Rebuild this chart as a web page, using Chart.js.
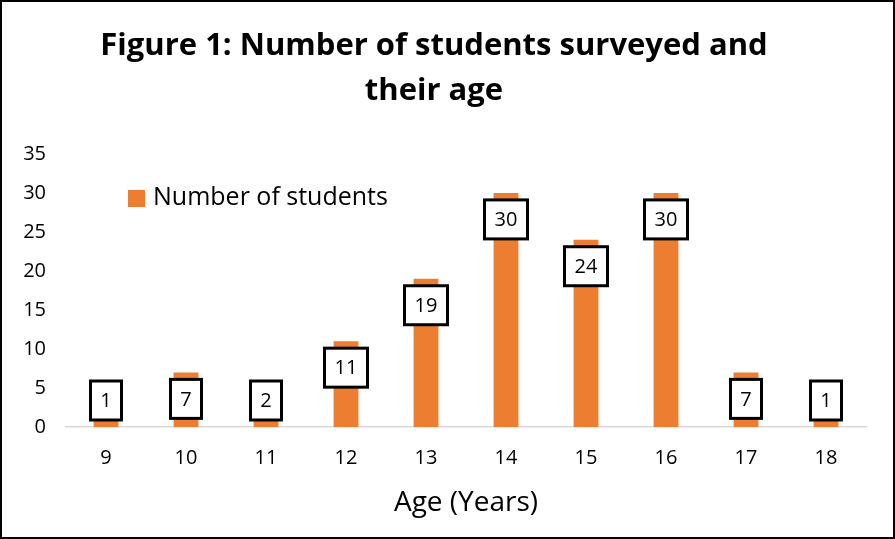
<!DOCTYPE html>
<html>
<head>
<meta charset="utf-8">
<script src="https://cdn.jsdelivr.net/npm/chart.js@4.4.0/dist/chart.umd.min.js"></script>
<style>
  html, body { margin: 0; padding: 0; background: #fff; }
  #frame { width: 895px; height: 539px; box-sizing: border-box; border: 2px solid #000; background: #fff; }
  #chart { display: block; }
</style>
</head>
<body>
<div id="frame"><canvas id="chart" width="891" height="535"></canvas></div>
<script>
const ages = ['9', '10', '11', '12', '13', '14', '15', '16', '17', '18'];
const students = [1, 7, 2, 11, 19, 30, 24, 30, 7, 1];
const seriesName = 'Number of students';
const titleLines = ['Figure 1: Number of students surveyed and', 'their age'];
const xTitle = 'Age (Years)';

const FONT = '"Open Sans", sans-serif';
const ORANGE = '#ED7D31';

// boxed value labels sitting just inside the top of each bar
const boxLabels = {
  id: 'boxLabels',
  afterDatasetsDraw(chart) {
    const ctx = chart.ctx;
    const meta = chart.getDatasetMeta(0);
    const base = chart.scales.y.getPixelForValue(0);
    ctx.save();
    ctx.font = '20px ' + FONT;
    ctx.textAlign = 'center';
    ctx.textBaseline = 'middle';
    meta.data.forEach((bar, i) => {
      const txt = String(students[i]);
      const w = Math.round(ctx.measureText(txt).width + 20);
      const h = 39;
      let top = bar.y + 7;
      if (top + h > base - 7) top = base - 7 - h;
      const left = bar.x - w / 2;
      ctx.fillStyle = '#fff';
      ctx.fillRect(left, top, w, h);
      ctx.lineWidth = 3;
      ctx.strokeStyle = '#000';
      ctx.strokeRect(left, top, w, h);
      ctx.fillStyle = '#000';
      ctx.fillText(txt, bar.x, top + h / 2 + 1);
    });
    ctx.restore();
  }
};

// legend drawn inside the plot area, upper left
const innerLegend = {
  id: 'innerLegend',
  afterDraw(chart) {
    const ctx = chart.ctx;
    ctx.save();
    ctx.fillStyle = ORANGE;
    ctx.fillRect(126, 188, 17, 17);
    ctx.fillStyle = '#000';
    ctx.font = '25px ' + FONT;
    ctx.textAlign = 'left';
    ctx.textBaseline = 'middle';
    ctx.fillText(seriesName, 151, 196);
    ctx.restore();
  }
};

new Chart(document.getElementById('chart'), {
  type: 'bar',
  data: {
    labels: ages,
    datasets: [{
      label: seriesName,
      data: students,
      backgroundColor: ORANGE,
      borderWidth: 0,
      categoryPercentage: 1,
      barPercentage: 0.31
    }]
  },
  options: {
    responsive: false,
    animation: false,
    layout: { padding: { left: 0, right: 27, top: 0, bottom: 20 } },
    plugins: {
      legend: { display: false },
      tooltip: { enabled: false },
      title: {
        display: true,
        text: titleLines,
        color: '#000',
        font: { family: FONT, size: 31, weight: 'bold', lineHeight: 1.45 },
        padding: { top: 22, bottom: 40 }
      }
    },
    scales: {
      x: {
        grid: { display: false, drawTicks: false },
        border: { display: true, color: '#D9D9D9', width: 1.5 },
        ticks: { color: '#000', font: { family: FONT, size: 20 }, padding: 19 },
        title: {
          display: true,
          text: xTitle,
          color: '#000',
          font: { family: FONT, size: 28, lineHeight: 1 },
          padding: { top: 0, bottom: 0 }
        }
      },
      y: {
        min: 0,
        max: 35,
        afterFit(scale) { scale.width = 64; },
        grid: { display: false, drawTicks: false },
        border: { display: false },
        ticks: { stepSize: 5, color: '#000', font: { family: FONT, size: 20 }, padding: 20 }
      }
    }
  },
  plugins: [boxLabels, innerLegend]
});
</script>
</body>
</html>
